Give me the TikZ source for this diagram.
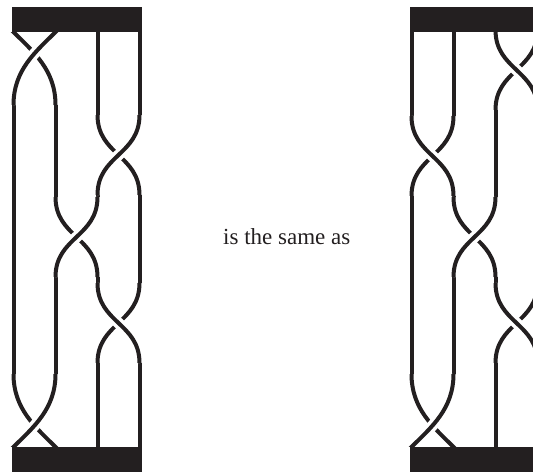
\documentclass[tikz,border=0pt]{standalone}
\usepackage{fontspec}
\setmainfont{Liberation Serif}
\definecolor{ink}{HTML}{231F20}
\tikzset{
  strand/.style={draw=ink, line width=4pt, line cap=butt},
  halo/.style={draw=white, line width=11pt, line cap=butt},
  bar/.style={fill=ink, draw=none},
  lbl/.style={font=\fontsize{23}{27}\selectfont, text=ink, inner sep=0pt, anchor=base west}
}
% regular crossing: #1 left x, #2 right x, #3 top y, #4 bottom y, #5 = 1 for "/" over, 0 for "\" over
\newcommand{\bxcross}[5]{%
  \pgfmathsetmacro\brym{(#3+#4)/2}%
  \ifnum#5=1
    \draw[strand] (#1,#3) .. controls (#1,\brym) and (#2,\brym) .. (#2,#4);
    \draw[halo] (#2,#3) .. controls (#2,\brym) and (#1,\brym) .. (#1,#4);
    \draw[strand] (#2,#3) .. controls (#2,\brym) and (#1,\brym) .. (#1,#4);
  \else
    \draw[strand] (#2,#3) .. controls (#2,\brym) and (#1,\brym) .. (#1,#4);
    \draw[halo] (#1,#3) .. controls (#1,\brym) and (#2,\brym) .. (#2,#4);
    \draw[strand] (#1,#3) .. controls (#1,\brym) and (#2,\brym) .. (#2,#4);
  \fi}
% top special crossing ("/" over), #1 left x, #2 right x
\newcommand{\bxtop}[2]{%
  \pgfmathsetmacro\bxl{#1+20}\pgfmathsetmacro\bxr{#2-20}%
  \pgfmathsetmacro\bxla{#1-6}\pgfmathsetmacro\bxra{#2+6}%
  \draw[strand] (\bxla,26) -- (#1,32) .. controls (\bxl,52) and (#2,70) .. (#2,105);
  \draw[halo] (#2,32) .. controls (\bxr,52) and (#1,70) .. (#1,105);
  \draw[strand] (\bxra,26) -- (#2,32) .. controls (\bxr,52) and (#1,70) .. (#1,105);}
% bottom special crossing ("/" over)
\newcommand{\bxbot}[2]{%
  \pgfmathsetmacro\bxl{#1+20}\pgfmathsetmacro\bxr{#2-20}%
  \pgfmathsetmacro\bxla{#1-6}\pgfmathsetmacro\bxra{#2+6}%
  \draw[strand] (#1,374) .. controls (#1,409) and (\bxr,427) .. (#2,447) -- (\bxra,453);
  \draw[halo] (#2,374) .. controls (#2,409) and (\bxl,427) .. (#1,447);
  \draw[strand] (#2,374) .. controls (#2,409) and (\bxl,427) .. (#1,447) -- (\bxla,453);}
\newcommand{\bxv}[3]{\draw[strand] (#1,#2) -- (#1,#3);}
\begin{document}
\begin{tikzpicture}[x=1pt, y=-1pt]
\path[use as bounding box] (0,0) rectangle (533,472);
\begin{scope}
\clip (0,32.3) rectangle (533,446.7);
% ---------- left braid: q1..q4 = 13.5, 55.5, 97.5, 139.5
\bxv{13.5}{105}{374}
\bxv{55.5}{105}{197}
\bxv{55.5}{277}{374}
\bxv{97.5}{30}{115}
\bxv{97.5}{195}{197}
\bxv{97.5}{277}{283}
\bxv{97.5}{363}{450}
\bxv{139.5}{30}{115}
\bxv{139.5}{195}{283}
\bxv{139.5}{363}{450}
\bxtop{13.5}{55.5}
\bxcross{97.5}{139.5}{115}{195}{1}
\bxcross{55.5}{97.5}{197}{277}{1}
\bxcross{97.5}{139.5}{283}{363}{0}
\bxbot{13.5}{55.5}
% ---------- right braid: p1..p4 = 411.5, 453.5, 495.5, 537.5
\bxv{411.5}{30}{116}
\bxv{411.5}{196}{374}
\bxv{453.5}{30}{116}
\bxv{453.5}{196}{197}
\bxv{453.5}{277}{374}
\bxv{495.5}{110}{197}
\bxv{495.5}{277}{283}
\bxv{495.5}{363}{450}
\bxv{537.5}{110}{283}
\bxv{537.5}{363}{450}
\bxcross{495.5}{537.5}{30}{110}{0}
\bxcross{411.5}{453.5}{116}{196}{0}
\bxcross{453.5}{495.5}{197}{277}{1}
\bxcross{495.5}{537.5}{283}{363}{0}
\bxbot{411.5}{453.5}
\end{scope}
% ---------- bars
\begin{scope}
\clip (0,0) rectangle (533,472);
\fill[bar] (11.5,7.3) rectangle (141.5,32.3);
\fill[bar] (11.5,446.7) rectangle (141.5,472);
\fill[bar] (409.5,7.3) rectangle (545,32.3);
\fill[bar] (409.5,446.7) rectangle (545,472);
\end{scope}
\node[lbl] (txt) at (223,244) {is the same as};
\end{tikzpicture}
\end{document}
